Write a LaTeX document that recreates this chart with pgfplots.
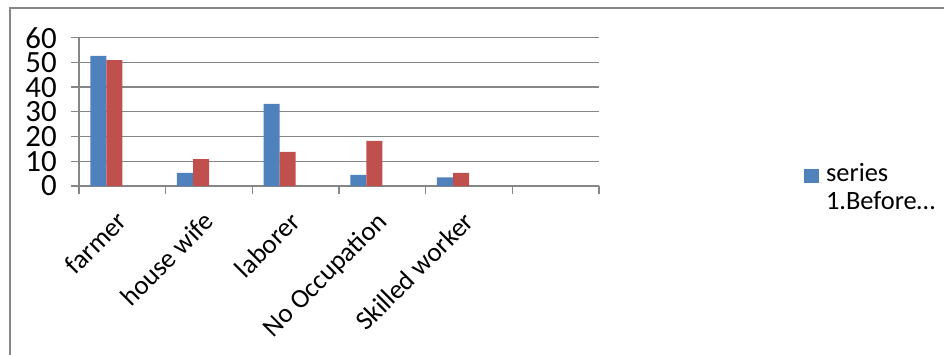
\documentclass[border=0pt]{standalone}
\usepackage{pgfplots}
\pgfplotsset{compat=1.18}
\usepackage{fontspec}
\setmainfont{Carlito}
\definecolor{xblue}{HTML}{4F81BD}
\definecolor{xred}{HTML}{C0504D}
\definecolor{xgray}{HTML}{868686}
\begin{document}
\begin{tikzpicture}[x=1bp,y=1bp]
\useasboundingbox (0,0) rectangle (944,354);
\draw[xgray, line width=1.3bp] (10,-2) -- (10,346) -- (946,346);
\begin{axis}[
  at={(79bp,168bp)}, anchor=south west,
  scale only axis, width=520bp, height=148.3bp,
  xmin=-0.5, xmax=5.5, ymin=0, ymax=60,
  ytick={0,10,...,60},
  yticklabels={0,10,20,30,40,50,60},
  xtick={0,...,4},
  xticklabels={farmer,house wife,laborer,No Occupation,Skilled worker},
  minor xtick={-0.5,0.5,...,5.5},
  axis x line*=bottom, axis y line*=left,
  axis line style={xgray, line width=1.3bp, -},
  ymajorgrids, grid style={xgray, line width=1.3bp},
  tick style={xgray, line width=1.3bp},
  major tick length=8bp, minor tick length=8bp,
  tick align=outside,
  major x tick style={draw=none},
  /pgf/number format/assume math mode=true,
  yticklabel style={font=\fontsize{31}{31}\selectfont, inner sep=0pt, xshift=-14bp},
  xticklabel style={font=\fontsize{27}{27}\selectfont, inner sep=0pt, xshift=-7bp, yshift=-16bp, rotate=45, anchor=north east},
  ybar, bar width=0.1846,
  legend style={at={(rel axis cs:1.393,0.17)}, anchor=north west, draw=none, fill=none,
    font=\fontsize{26.5}{28}\selectfont, cells={align=left}, inner sep=0pt, nodes={inner xsep=3.5bp}},
  legend cell align=left,
  legend image code/.code={\fill[xblue] (0bp,4bp) rectangle (15bp,18bp); \path (0bp,4bp) -- (19bp,4bp);},
]
\addplot[fill=xblue, draw=none, bar shift=-0.277] coordinates {(0,52.6) (1,5.3) (2,33.2) (3,4.5) (4,3.5)};
\addlegendentry{series\\1.Before…}
\addplot[fill=xred, draw=none, bar shift=-0.092] coordinates {(0,50.9) (1,10.9) (2,13.8) (3,18.3) (4,5.3)};
\end{axis}
\end{tikzpicture}
\end{document}
